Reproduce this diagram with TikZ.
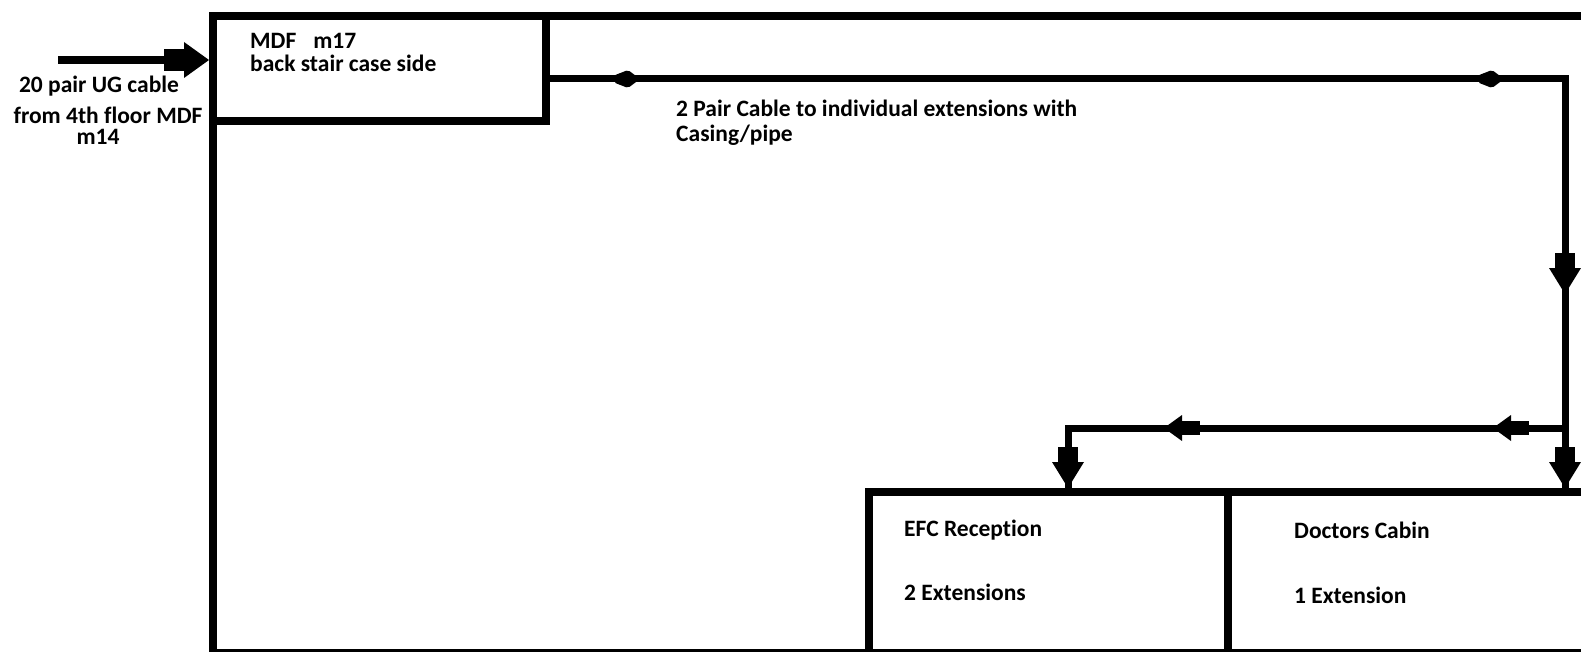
\documentclass[tikz,border=0pt]{standalone}
\usepackage{fontspec}
\setmainfont{Carlito}[Ligatures=NoCommon]
\usetikzlibrary{arrows.meta}
\begin{document}
\begin{tikzpicture}[x=1pt,y=1pt,
  frame/.style={draw,line width=8pt,anchor=north west,inner sep=0pt},
  wire/.style={line width=7pt},
  txt/.style={font=\bfseries\fontsize{23.5}{28}\selectfont,inner sep=0pt},
  lbl/.style={txt,anchor=base west},
  pics/inblk/.style={code={\fill (-45,-11) rectangle (-20,11); \fill (0,0) -- (-25,18) -- (-25,-18) -- cycle;}},
  pics/downblk/.style={code={\fill (-41,-10) rectangle (-24,10); \fill (0,0) -- (-26,16) -- (-26,-16) -- cycle;}},
  pics/midblk/.style={code={\fill (-36,-7) rectangle (-14,7); \fill (0,0) -- (-18,13) -- (-18,-13) -- cycle;}},
  pics/smallhd/.style={code={\fill[rounded corners=2pt] (0,0) -- (-12,9) -- (-26,3.5) -- (-26,-3.5) -- (-12,-9) -- cycle;}}
]
\useasboundingbox (0,0) rectangle (1581,-652);
\clip (0,0) rectangle (1581,-652);
\fill[white] (0,0) rectangle (1581,-652);

% rooms
\node[frame,minimum width=1400,minimum height=637] (floor) at (209,-12) {};
\node[frame,minimum width=333,minimum height=105] (mdf) at (209,-12) {};
\node[frame,minimum width=359,minimum height=162] (efc) at (865,-488) {};
\node[frame,minimum width=385,minimum height=162] (doc) at (1224,-488) {};

% labels
\node[lbl] (mdft) at (250,-49) {MDF\hspace{17pt}m17};
\node[lbl] (mdfs) at (250,-72) {back stair case side};
\node[txt,anchor=base] (inl1) at (99,-93) {20 pair UG cable};
\node[txt,anchor=base] (inl2) at (108,-124) {from 4th floor MDF};
\node[txt,anchor=base] (inl3) at (98,-145) {m14};
\node[lbl] (cab1) at (676,-117) {2 Pair Cable to individual extensions with};
\node[lbl] (cab2) at (676,-142) {Casing/pipe};
\node[lbl] (efct) at (904,-536) {EFC Reception};
\node[lbl] (efcn) at (904,-600) {2 Extensions};
\node[lbl] (doct) at (1294,-538) {Doctors Cabin};
\node[lbl] (docn) at (1294,-603) {1 Extension};

% cable routing
\coordinate (in) at (58,-60);
\coordinate (c1) at (542,-79);
\coordinate (c2) at (1565,-79);
\coordinate (c3) at (1565,-428);
\coordinate (c4) at (1068,-428);

\draw[line width=8pt] (in) -- (170,-60);
\pic at (mdf.west |- in) {inblk};
\draw[wire] (c1) -- (c2) -- (c3 |- doc.north);
\draw[wire] (c3) -- (c4) -- (c4 |- efc.north);

\pic at (640,-79) {smallhd};
\pic at (1504,-79) {smallhd};
\pic[rotate=-90] at (1565,-294) {downblk};
\pic[rotate=180] at (1493,-428) {midblk};
\pic[rotate=180] at (1164,-428) {midblk};
\pic[rotate=-90] at (c4 |- efc.north) {downblk};
\pic[rotate=-90] at (c3 |- doc.north) {downblk};
\end{tikzpicture}
\end{document}
